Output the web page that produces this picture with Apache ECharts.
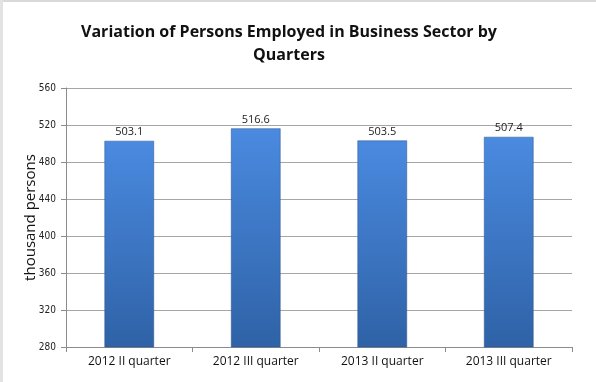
<!DOCTYPE html>
<html>
<head>
<meta charset="utf-8">
<script src="https://cdn.jsdelivr.net/npm/echarts@6/dist/echarts.min.js"></script>
<style>
html,body{margin:0;padding:0;background:#fff;}
#c{width:596px;height:382px;}
</style>
</head>
<body>
<div id="c"></div>
<script>
const categories = ["2012 II quarter", "2012 III quarter", "2013 II quarter", "2013 III quarter"];
const values = [503.1, 516.6, 503.5, 507.4];
const yTicks = [280, 320, 360, 400, 440, 480, 520, 560];

const chart = echarts.init(document.getElementById('c'), null, {renderer: 'canvas'});
chart.setOption({
  animation: false,
  backgroundColor: '#fff',
  title: {
    text: 'Variation of Persons Employed in Business Sector by\nQuarters',
    left: 284, top: 16, textAlign: 'center',
    textStyle: {fontFamily: 'Open Sans', fontWeight: 'bold', fontSize: 16, color: '#111', lineHeight: 23}
  },
  graphic: [
    {type: 'rect', shape: {x: 0, y: 0, width: 596, height: 2}, style: {fill: '#d9d9d9'}, silent: true},
    {type: 'rect', shape: {x: 0, y: 0, width: 3, height: 382}, style: {fill: '#e3e3e3'}, silent: true}
  ],
  grid: {left: 66, right: 24, top: 88, bottom: 35},
  xAxis: {
    type: 'category',
    data: categories,
    axisLine: {lineStyle: {color: '#8c8c8c', width: 1}},
    axisTick: {show: true, length: 5, lineStyle: {color: '#8c8c8c'}},
    axisLabel: {color: '#111', fontFamily: 'Open Sans', fontSize: 12, margin: 9}
  },
  yAxis: {
    type: 'value',
    min: yTicks[0], max: yTicks[yTicks.length - 1], interval: 40,
    name: 'thousand persons',
    nameLocation: 'middle',
    nameGap: 28,
    nameMoveOverlap: false,
    nameRotate: 90,
    nameTextStyle: {fontFamily: 'Open Sans', fontSize: 15, color: '#111'},
    axisLine: {show: true, lineStyle: {color: '#8c8c8c'}},
    axisTick: {show: true, length: 5, inside: false, lineStyle: {color: '#8c8c8c'}},
    axisLabel: {color: '#222', fontFamily: '"Liberation Sans Narrow", "DejaVu Sans Condensed", "Open Sans"', fontSize: 10, margin: 10},
    splitLine: {lineStyle: {color: '#a6a6a6', width: 1}}
  },
  series: [{
    type: 'bar',
    data: values,
    barWidth: 50,
    itemStyle: {
      color: new echarts.graphic.LinearGradient(0, 0, 0, 1, [
        {offset: 0, color: '#4a8ae0'},
        {offset: 1, color: '#2f62a6'}
      ]),
      borderColor: 'rgba(40,80,140,0.5)',
      borderWidth: 1
    },
    label: {
      show: true, position: 'top', distance: 3,
      color: '#222', fontFamily: 'Open Sans', fontSize: 11,
      formatter: p => p.value.toFixed(1)
    }
  }]
});
</script>
</body>
</html>
